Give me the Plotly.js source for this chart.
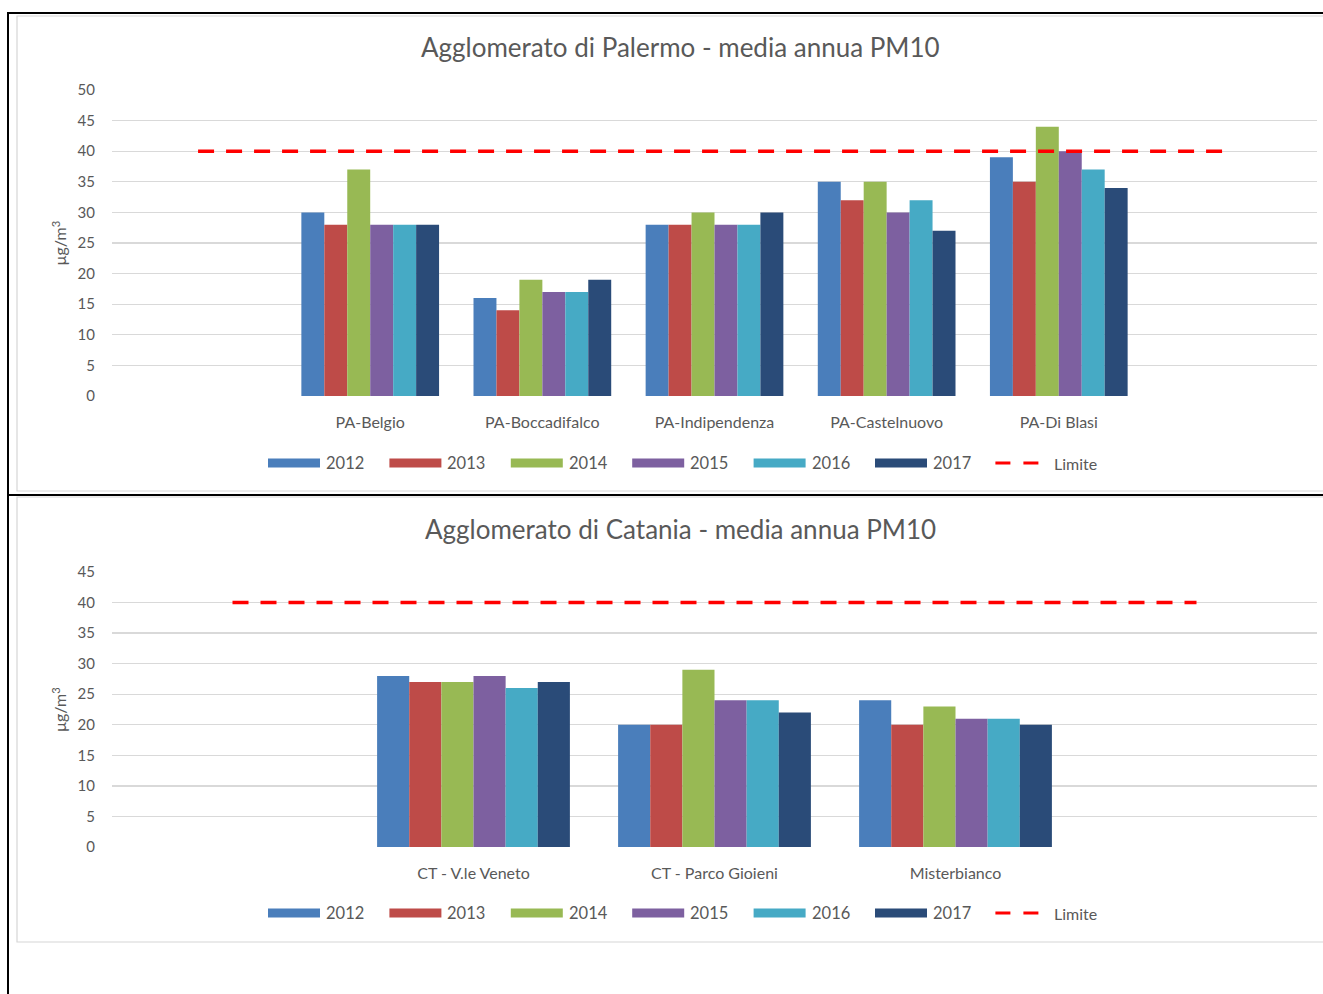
<!DOCTYPE html>
<html>
<head>
<meta charset="utf-8">
<script src="https://cdn.plot.ly/plotly-3.0.1.min.js"></script>
<style>
  html, body { margin: 0; padding: 0; background: #ffffff; }
  #chart { width: 1323px; height: 994px; }
</style>
</head>
<body>
<div id="chart"></div>
<script>
// ---------------- DATA ----------------
const years = ["2012", "2013", "2014", "2015", "2016", "2017"];
const limitLabel = "Limite";

const titlePA = "Agglomerato di Palermo - media annua PM10";
const categoriesPA = ["PA-Belgio", "PA-Boccadifalco", "PA-Indipendenza", "PA-Castelnuovo", "PA-Di Blasi"];
const pa2012 = [30, 16, 28, 35, 39];
const pa2013 = [28, 14, 28, 32, 35];
const pa2014 = [37, 19, 30, 35, 44];
const pa2015 = [28, 17, 28, 30, 40];
const pa2016 = [28, 17, 28, 32, 37];
const pa2017 = [28, 19, 30, 27, 34];
const limitPA = 40;
const yTicksPA = [0, 5, 10, 15, 20, 25, 30, 35, 40, 45, 50];

const titleCT = "Agglomerato di Catania - media annua PM10";
const categoriesCT = ["CT - V.le Veneto", "CT - Parco Gioieni", "Misterbianco"];
const ct2012 = [28, 20, 24];
const ct2013 = [27, 20, 20];
const ct2014 = [27, 29, 23];
const ct2015 = [28, 24, 21];
const ct2016 = [26, 24, 21];
const ct2017 = [27, 22, 20];
const limitCT = 40;
const yTicksCT = [0, 5, 10, 15, 20, 25, 30, 35, 40, 45];

const yUnit = "μg/m<sup>3</sup>";

// ---------------- STYLE ----------------
const W = 1323, H = 994;
const colors = ["#4A7EBB", "#BE4B48", "#98B954", "#7D60A0", "#46AAC5", "#2A4B78"];
const limitColor = "#FF0000";
const textColor = "#595959";
const gridColor = "#D9D9D9";
const FONT = "Lato, 'Open Sans', 'Liberation Sans', sans-serif";

const px = x => x / W;
const py = y => 1 - y / H;

const seriesPA = [pa2012, pa2013, pa2014, pa2015, pa2016, pa2017];
const seriesCT = [ct2012, ct2013, ct2014, ct2015, ct2016, ct2017];

const traces = [];
function addChart(cats, series, limit, xa, ya) {
  const xs = cats.map((_, i) => i);
  series.forEach((vals, k) => {
    traces.push({
      type: "bar", x: xs, y: vals, name: years[k],
      xaxis: xa, yaxis: ya, showlegend: false,
      marker: { color: colors[k], line: { width: 0 } },
      hovertemplate: "%{y}<extra>" + years[k] + "</extra>"
    });
  });
  // Limit line spans the padding slot on each side of the categories
  const lx = [-1, cats.length];
  traces.push({
    type: "scatter", mode: "lines", x: lx, y: lx.map(() => limit),
    name: limitLabel, xaxis: xa, yaxis: ya, showlegend: false,
    line: { color: limitColor, width: 3.5, dash: "16px,12px" },
    hoverinfo: "skip"
  });
}
addChart(categoriesPA, seriesPA, limitPA, "x", "y");
addChart(categoriesCT, seriesCT, limitCT, "x2", "y2");

const tickFontY = { family: FONT, size: 15, color: textColor };
const tickFontX = { family: FONT, size: 16, color: textColor };

function xAxis(cats) {
  return {
    domain: [px(112), px(1317)],
    range: [-1.5, cats.length + 0.5],
    tickvals: cats.map((_, i) => i),
    ticktext: cats,
    showgrid: false, zeroline: false,
    showline: false,
    ticks: "", ticklabelstandoff: 15,
    tickfont: tickFontX, fixedrange: true
  };
}
function yAxis(ticks, domain, anchor) {
  return {
    domain: domain, anchor: anchor,
    range: [0, ticks[ticks.length - 1]],
    tickvals: ticks,
    showgrid: true, gridcolor: gridColor, gridwidth: 1.3,
    zeroline: false, showline: false, ticks: "",
    ticklabelstandoff: 16,
    tickfont: tickFontY, fixedrange: true,
    title: { text: yUnit, standoff: 6, font: { family: FONT, size: 16, color: textColor } }
  };
}

const shapes = [];
const annotations = [];

// frame lines
shapes.push({ type: "rect", xref: "paper", yref: "paper", x0: px(17), x1: px(1335), y0: py(491), y1: py(16),
  line: { color: "#D6D6D6", width: 1.2 }, fillcolor: "rgba(0,0,0,0)", layer: "below" });
shapes.push({ type: "rect", xref: "paper", yref: "paper", x0: px(17), x1: px(1335), y0: py(942), y1: py(497),
  line: { color: "#D6D6D6", width: 1.2 }, fillcolor: "rgba(0,0,0,0)", layer: "below" });
shapes.push({ type: "line", xref: "paper", yref: "paper", x0: px(8), x1: px(8), y0: py(12), y1: py(1000),
  line: { color: "#000000", width: 2 } });
shapes.push({ type: "line", xref: "paper", yref: "paper", x0: px(8), x1: px(1330), y0: py(13), y1: py(13),
  line: { color: "#000000", width: 2 } });
shapes.push({ type: "line", xref: "paper", yref: "paper", x0: px(8), x1: px(1330), y0: py(495), y1: py(495),
  line: { color: "#000000", width: 2 } });

// chart titles
function addTitle(title, ty) {
  annotations.push({ text: title, xref: "paper", yref: "paper", x: px(680), y: py(ty),
    xanchor: "center", yanchor: "middle", showarrow: false,
    font: { family: FONT, size: 26, color: textColor } });
}
addTitle(titlePA, 47);
addTitle(titleCT, 529);

// custom legends (long bar swatches like the original)
function addLegend(cy) {
  const step = 121.4, startX = 268, sw = 52;
  years.forEach((yr, k) => {
    const x0 = startX + k * step;
    shapes.push({ type: "rect", xref: "paper", yref: "paper",
      x0: px(x0), x1: px(x0 + sw), y0: py(cy + 4.5), y1: py(cy - 4.5),
      line: { width: 0 }, fillcolor: colors[k] });
    annotations.push({ text: yr, xref: "paper", yref: "paper", x: px(x0 + sw + 4), y: py(cy),
      xanchor: "left", yanchor: "middle", showarrow: false,
      font: { family: FONT, size: 16.5, color: textColor } });
  });
  const lx0 = startX + years.length * step - 1;
  shapes.push({ type: "line", xref: "paper", yref: "paper",
    x0: px(lx0), x1: px(lx0 + 46), y0: py(cy), y1: py(cy),
    line: { color: limitColor, width: 3, dash: "15px,13px" } });
  annotations.push({ text: limitLabel, xref: "paper", yref: "paper", x: px(lx0 + 57), y: py(cy),
    xanchor: "left", yanchor: "middle", showarrow: false,
    font: { family: FONT, size: 16, color: textColor } });
}
addLegend(463);
addLegend(913);

const layout = {
  width: W, height: H,
  margin: { l: 0, r: 0, t: 0, b: 0 },
  paper_bgcolor: "#ffffff", plot_bgcolor: "rgba(0,0,0,0)",
  barmode: "group", bargap: 0.2, bargroupgap: 0,
  showlegend: false,
  font: { family: FONT, color: textColor },
  xaxis: Object.assign(xAxis(categoriesPA), { anchor: "y" }),
  yaxis: yAxis(yTicksPA, [py(396), py(90)], "x"),
  xaxis2: Object.assign(xAxis(categoriesCT), { anchor: "y2" }),
  yaxis2: yAxis(yTicksCT, [py(847), py(572)], "x2"),
  shapes: shapes,
  annotations: annotations
};

Plotly.newPlot("chart", traces, layout, { displayModeBar: false, staticPlot: true });
</script>
</body>
</html>
